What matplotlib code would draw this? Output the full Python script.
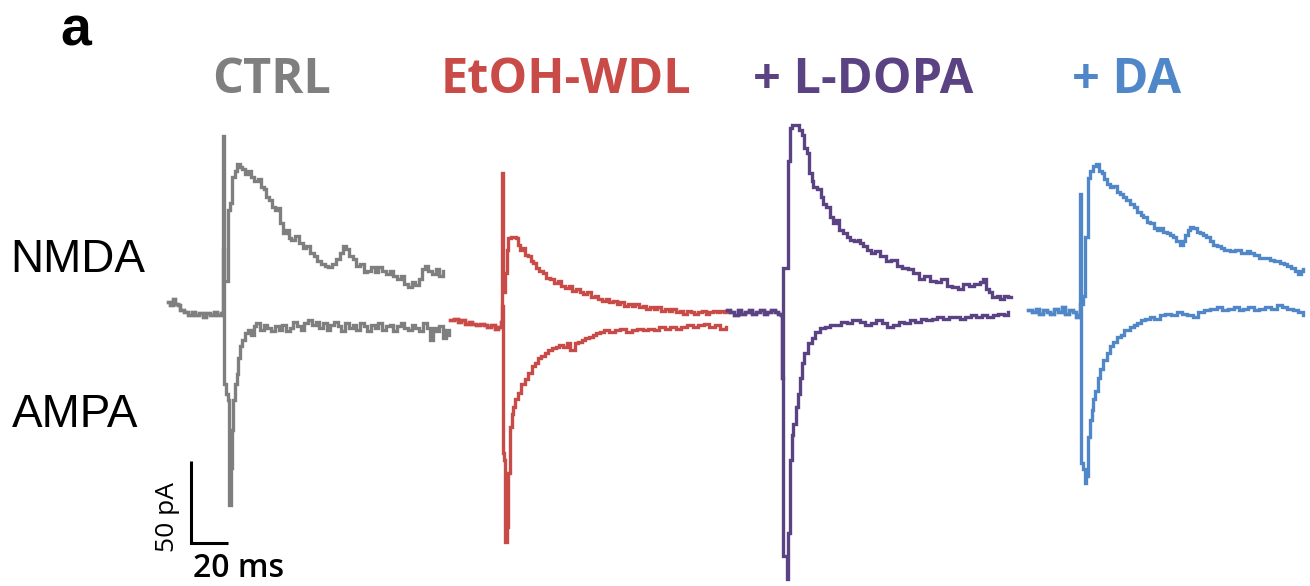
import matplotlib
matplotlib.use("Agg")
import matplotlib.pyplot as plt

# ---------------- data (t in ms relative to stimulus, I in pA relative to baseline) -------------
conditions = ["CTRL", "EtOH-WDL", "+ L-DOPA", "+ DA"]
colors = ["#7F7F7F", "#C94B47", "#5B4283", "#4F87C9"]

ctrl_pre = [(-30, 8), (-28.5, 6), (-27, 10), (-26, 7), (-24.5, 6), (-23, 3), (-21, 2), (-19, 0), (-17, 2),
            (-15, 0), (-13, 1), (-11, -1), (-9, 1), (-7, 0), (-5, 2), (-3, 0), (-1, 1)]
ctrl_nmda = [(0, 109), (0.6, 21), (1.6, 21), (2.9, 64), (4.0, 68), (5.0, 84), (6.5, 88), (7.7, 92), (9, 90),
             (10.5, 89), (12, 86), (13.5, 88), (15, 84), (17, 82), (19, 83), (20.5, 78), (22, 77), (23.5, 72),
             (25, 70), (26.5, 66), (28, 64), (29.5, 65), (31, 56), (32.5, 50), (34, 52), (35.5, 47), (37, 46),
             (39, 48), (41, 44), (43, 41), (45, 42), (47, 38), (49, 36), (51, 33), (53, 31), (55, 30), (57, 29),
             (59, 31), (61, 34), (63, 38), (65, 42), (66.5, 40), (68, 36), (70, 34), (72, 30), (74, 31), (76, 26),
             (78, 27), (80, 29), (82, 26), (84, 29), (86, 27), (88, 25), (90, 27), (92, 24), (94, 22), (96, 24),
             (98, 19), (100, 17), (102, 20), (104, 18), (106, 22), (107.5, 28), (109, 30), (111, 27), (113, 25),
             (115, 28), (117, 24), (119, 27)]
ctrl_ampa = [(0, 40), (0.6, -42), (1.6, -48), (2.9, -52), (3.0, -116), (3.6, -116), (4.1, -93), (4.8, -70),
             (5.6, -52), (6.5, -42), (7.4, -36), (8.3, -26), (9.2, -19), (10.5, -15), (12, -11), (13.5, -9),
             (15, -12), (16.5, -7), (18, -5), (20, -9), (22, -6), (24, -8), (26, -10), (28, -7), (30, -9), (32, -6),
             (34, -10), (36, -8), (38, -4), (40, -7), (42, -9), (44, -5), (46, -3), (48, -6), (50, -4), (52, -8),
             (54, -5), (56, -9), (58, -6), (60, -4), (62, -7), (64, -10), (66, -5), (68, -8), (70, -6), (72, -9),
             (74, -5), (76, -7), (78, -10), (80, -6), (82, -8), (84, -5), (86, -9), (88, -7), (90, -6), (92, -10),
             (94, -7), (96, -5), (98, -8), (100, -9), (102, -6), (104, -8), (106, -10), (108, -5), (110, -8),
             (112, -15), (113.5, -8), (115, -10), (117, -7), (119, -14), (120.5, -9), (122, -12)]

etoh_pre = [(-28, 1), (-26, 2), (-24, 0), (-22, 1), (-20, -1), (-18, 0), (-16, -1), (-14, -2), (-12, -1),
            (-10, -2), (-8, -3), (-6, -2), (-4, -4), (-2, -3), (-0.5, 0)]
etoh_nmda = [(0, 91), (0.5, 18), (1.5, 30), (2.5, 44), (3.4, 51), (5, 52), (7.7, 51), (8.5, 47), (9.7, 44),
             (11, 45), (12.5, 41), (14, 40), (15.5, 37), (17, 36), (18.5, 33), (20, 31), (22, 30), (24, 27),
             (26, 26), (28, 24), (30, 25), (32, 22), (34, 21), (36, 22), (38, 19), (40, 20), (42, 18), (44, 17),
             (46, 18), (48, 15), (50, 16), (52, 14), (54, 13), (56, 14), (58, 12), (60, 13), (62, 11), (64, 12),
             (66, 10), (68, 11), (70, 10), (72, 11), (74, 9), (76, 10), (78, 8), (80, 9), (82, 8), (84, 9), (86, 7),
             (88, 8), (90, 7), (92, 8), (94, 6), (96, 7), (98, 5), (100, 7), (102, 6), (104, 5), (106, 6), (108, 7),
             (110, 5), (112, 6), (114, 7), (116, 6), (118, 7), (120, 6), (122, 7)]
etoh_ampa = [(0, 10), (0.3, -80), (1.0, -84), (1.5, -87), (1.8, -134), (2.7, -125), (3.4, -92), (4.3, -64),
             (5.2, -56), (6, -52), (7.2, -47), (8.7, -43), (10.5, -38), (12.3, -35), (14, -31), (16, -27),
             (17.7, -25), (19.5, -22), (21, -21), (23, -19), (25, -17), (27, -16), (29, -15), (31, -14), (33, -15),
             (35, -13), (37, -17), (38.5, -17), (39.3, -13), (41, -12), (43, -11), (45, -10), (47, -9), (49, -8),
             (51, -7), (53, -6), (55, -5), (58, -6), (61, -5), (64, -4), (67, -6), (70, -5), (73, -4), (76, -5),
             (79, -4), (82, -5), (85, -3), (88, -4), (91, -3), (94, -4), (97, -3), (100, -2), (103, -3), (106, -2),
             (109, -1), (112, -3), (115, -2), (118, -4), (121, -3)]

ldopa_pre = [(-30, 1), (-28, 0), (-26, -2), (-24, 1), (-22, -1), (-20, 0), (-18, 1), (-16, -1), (-14, 0),
             (-12, 1), (-10, -1), (-8, 0), (-6, 1), (-4, 0), (-2, -1), (-0.5, -2)]
ldopa_nmda = [(0, -40), (0.5, 27), (3.4, 27), (3.5, 92), (4.3, 112), (5.5, 114), (7.6, 114), (9, 111),
              (10.6, 108), (12, 100), (13.3, 97), (14.5, 85), (16, 80), (17, 76), (19, 75), (21, 70), (22.3, 66),
              (24, 64), (26, 58), (27.7, 54), (29, 56), (31, 50), (33, 48), (35, 46), (37, 44), (39, 43), (41, 44),
              (42.2, 42), (44, 40), (46, 38), (48, 36), (50, 37), (53, 34), (56, 31), (59, 32), (62, 28), (65, 27),
              (68, 26), (71, 24), (74, 20), (77, 22), (80, 19), (83, 18), (86, 20), (89, 16), (92, 15), (95, 14),
              (98, 17), (101, 16), (104, 17), (107, 18), (108.8, 20), (110.5, 14), (112, 12), (113.3, 9),
              (116, 10), (118, 8), (120, 10), (122, 9), (124, 9)]
ldopa_ampa = [(0, -40), (0.7, -149), (2.5, -163), (3.4, -135), (4.3, -90), (5.2, -75), (6.1, -68), (7.5, -58),
              (8.8, -50), (9.7, -40), (10.6, -31), (12, -25), (14.2, -19), (16, -16), (18, -12), (20.5, -10),
              (23, -9), (26, -8), (29.5, -8), (32, -6), (35, -7), (38, -5), (42, -6), (45, -8), (48, -7), (51, -5),
              (54, -7), (57, -9), (60, -8), (63, -6), (66, -7), (69, -5), (72, -6), (75, -4), (78, -5), (81, -4),
              (84, -3), (87, -4), (90, -3), (93, -3), (96, -4), (99, -3), (102, -2), (105, -3), (108, -2),
              (111, -3), (114, -2), (117, -1), (120, -2), (122.3, 0)]

da_pre = [(-28, 1), (-26, 0), (-24, 2), (-22, -1), (-20, 1), (-18, 0), (-16, -1), (-14, 2), (-12, 0), (-10, 3),
          (-8, -1), (-6, 1), (-4, 0), (-2, -3), (-1, -2)]
da_nmda = [(0, 5), (1.5, 10), (2.7, 46), (4.5, 82), (5.5, 86), (7.2, 89), (8.5, 90), (10, 86), (11.7, 85),
           (13, 81), (14.5, 78), (16.2, 76), (18, 77), (20, 73), (21.6, 72), (23, 70), (25, 68), (27, 66),
           (29, 64), (31, 61), (33, 59), (34.2, 58), (36, 55), (38, 54), (40, 51), (41.4, 50), (43, 51), (45, 49),
           (47, 48), (48.6, 47), (50, 46), (52, 43), (54, 41), (55.5, 43), (57, 47), (58.5, 50), (59.5, 52),
           (61, 51), (63, 49), (65, 48), (66.7, 47), (68, 46), (70, 43), (72, 41), (73.9, 40), (76, 39), (78, 38),
           (81.1, 37), (84, 38), (87, 36), (90, 37), (91.9, 36), (94, 35), (97, 33), (100, 33), (102.7, 32),
           (105, 31), (108, 30), (110, 29), (111.7, 28), (114, 27), (116, 25), (118, 23), (119.5, 25),
           (120.7, 26)]
da_ampa = [(0, 72), (0.6, -92), (1.5, -96), (2.7, -104), (3.5, -100), (4.5, -76), (5.4, -66), (6.3, -60),
           (7.2, -53), (8.1, -48), (9.5, -40), (10.8, -35), (12.5, -29), (14.4, -25), (16, -21), (18, -18),
           (19.8, -15), (22, -14), (24, -11), (27, -9), (29, -8), (31, -7), (33, -5), (35, -4), (37.8, -3),
           (40, -4), (43, -2), (46, -1), (49, -2), (52.3, 0), (55, -1), (58, -2), (61.3, -3), (64, 0), (67, 1),
           (70, 2), (73.9, 3), (77, 1), (80, 2), (83, 3), (86, 1), (88.3, 2), (91, 3), (94, 1), (97, 2),
           (100, 3), (103, 2), (106.3, 4), (109, 3), (112, 2), (115.3, 1), (118, 0), (120.7, -2)]

scale_ms = 20
scale_pa = 50

# ---------------- layout -------------
W, H = 1310, 586
PX_PER_MS = 1.85
PX_PER_PA = 1.64
# (stimulus x pixel, baseline y pixel) for each panel
anchors = [(223, 315), (502, 322), (782, 312), (1080, 312)]
title_x = [272, 566, 863, 1126]

fig = plt.figure(figsize=(W / 100, H / 100), dpi=100)
ax = fig.add_axes([0, 0, 1, 1])
ax.set_xlim(0, W / PX_PER_MS)
ax.set_ylim(-H / PX_PER_PA, 0)
ax.axis("off")

traces = [(ctrl_pre, ctrl_nmda, ctrl_ampa), (etoh_pre, etoh_nmda, etoh_ampa),
          (ldopa_pre, ldopa_nmda, ldopa_ampa), (da_pre, da_nmda, da_ampa)]

for (pre, nmda, ampa), (ax0, ay0), col in zip(traces, anchors, colors):
    t_off = ax0 / PX_PER_MS
    i_off = -ay0 / PX_PER_PA
    for post in (ampa, nmda):
        pts = pre + post
        t = [p[0] + t_off for p in pts]
        i = [p[1] + i_off for p in pts]
        ax.plot(t, i, color=col, lw=2.4, drawstyle="steps-post", solid_joinstyle="miter")

# scale bar
sb_x = 191 / PX_PER_MS
sb_y = -543 / PX_PER_PA
ax.plot([sb_x, sb_x, sb_x + scale_ms], [sb_y + scale_pa, sb_y, sb_y], color="black", lw=2.2,
        solid_joinstyle="miter", solid_capstyle="butt")

def fx(x):
    return x / W

def fy(y):
    return 1 - y / H

fig.text(fx(60), fy(45), "a", fontsize=40, fontweight="bold", family="Liberation Sans", va="baseline", ha="left")
for name, x, col in zip(conditions, title_x, colors):
    fig.text(fx(x), fy(93), name, fontsize=35, fontweight="bold", family="Open Sans", color=col,
             ha="center", va="baseline")

fig.text(fx(10), fy(272), "NMDA", fontsize=33, family="Liberation Sans", ha="left", va="baseline")
fig.text(fx(12), fy(427), "AMPA", fontsize=33, family="Liberation Sans", ha="left", va="baseline")

fig.text(fx(167), fy(517), "50 pA", fontsize=19, family="Open Sans", rotation=90, ha="center", va="center")
fig.text(fx(193), fy(577), "20 ms", fontsize=23, family="Open Sans", fontweight="semibold",
         ha="left", va="baseline")

fig.savefig("out.png", dpi=100)
